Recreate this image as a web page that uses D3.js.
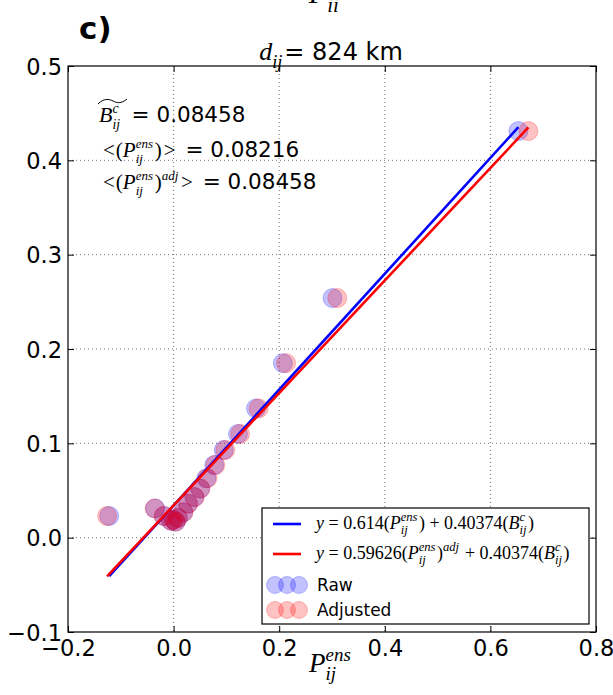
<!DOCTYPE html>
<html>
<head>
<meta charset="utf-8">
<script src="https://cdn.jsdelivr.net/npm/d3@7"></script>
<style>
  body { margin: 0; background: #fff; }
  svg { display: block; }
  svg text { white-space: pre; }
</style>
</head>
<body>
<script>
// raw ensemble points and their adjusted counterparts (same y values)
const rawX = [-0.122, -0.035, -0.018, -0.005, 0.000, 0.004, 0.008, 0.018, 0.027, 0.039,
              0.050, 0.062, 0.077, 0.095, 0.122, 0.156, 0.207, 0.301, 0.653];
const adjX = [-0.126, -0.036, -0.019, -0.005, 0.000, 0.004, 0.008, 0.019, 0.028, 0.040,
              0.051, 0.064, 0.079, 0.098, 0.126, 0.161, 0.213, 0.310, 0.672];
const pointY = [0.023, 0.031, 0.023, 0.018, 0.019, 0.017, 0.021, 0.027, 0.036, 0.043,
                0.052, 0.063, 0.077, 0.093, 0.110, 0.137, 0.185, 0.254, 0.431];

// fits: y = slope * P + 0.40374 * Bc
const Bc = 0.08458;
const fitSlopes = [0.614, 0.59626];
const fitWeight = 0.40374;
const fitColors = ["#0000ff", "#ff0000"];
const fitRanges = [[-0.122, 0.653], [-0.126, 0.672]];

const xTicks = [-0.2, 0.0, 0.2, 0.4, 0.6, 0.8];
const yTicks = [-0.1, 0.0, 0.1, 0.2, 0.3, 0.4, 0.5];

const W = 613, H = 695;
const plot = {left: 68, right: 596, top: 66, bottom: 632};

const svg = d3.select("body").append("svg")
    .attr("width", W)
    .attr("height", H);

svg.append("rect").attr("width", W).attr("height", H).attr("fill", "#fff");

const x = d3.scaleLinear().domain([-0.2, 0.8]).range([plot.left, plot.right]);
const y = d3.scaleLinear().domain([-0.1, 0.5]).range([plot.bottom, plot.top]);

const SANS = "DejaVu Sans, sans-serif";
const SERIF = "Liberation Serif, serif";

// lay out a run of math/sans pieces, measuring as we go
function mathLine(parent, x0, y0, items, size, anchor, ss) {
  ss = ss || 0.7;
  const g = parent.append("g");
  let cx = 0;
  const put = (txt, fam, sz, it, dy) => {
    const t = g.append("text")
        .attr("x", cx).attr("y", dy)
        .attr("font-family", fam)
        .attr("font-size", sz)
        .attr("font-style", it ? "italic" : "normal")
        .attr("fill", "#000")
        .text(txt);
    return t.node().getComputedTextLength();
  };
  items.forEach(d => {
    if (d.sub !== undefined || d.sup !== undefined) {
      let w = 0;
      const save = cx;
      if (d.sup) { w = Math.max(w, put(d.sup, SERIF, size * ss, true, -size * 0.42)); cx = save; }
      if (d.sub) { w = Math.max(w, put(d.sub, SERIF, size * ss, true, size * 0.3)); cx = save; }
      cx += w + size * 0.08;
    } else if (d.gap) {
      cx += d.gap;
    } else if (d.s) {
      cx += put(d.s, SANS, d.size || size, false, 0);
    } else if (d.r) {
      cx += put(d.r, SERIF, size, false, 0);
    } else {
      cx += put(d.m, SERIF, size, true, 0);
    }
  });
  const off = anchor === "middle" ? -cx / 2 : anchor === "end" ? -cx : 0;
  g.attr("transform", `translate(${x0 + off},${y0})`);
  return g;
}

// grid
svg.append("g").selectAll("line").data(xTicks.slice(1, -1)).enter().append("line")
    .attr("x1", d => x(d)).attr("x2", d => x(d))
    .attr("y1", plot.top).attr("y2", plot.bottom)
    .attr("stroke", "#000").attr("stroke-opacity", 0.55)
    .attr("stroke-width", 1).attr("stroke-dasharray", "1,3");
svg.append("g").selectAll("line").data(yTicks.slice(1, -1)).enter().append("line")
    .attr("y1", d => y(d)).attr("y2", d => y(d))
    .attr("x1", plot.left).attr("x2", plot.right)
    .attr("stroke", "#000").attr("stroke-opacity", 0.55)
    .attr("stroke-width", 1).attr("stroke-dasharray", "1,3");

// points: raw then adjusted
svg.append("g").selectAll("circle").data(rawX).enter().append("circle")
    .attr("cx", d => x(d)).attr("cy", (d, i) => y(pointY[i])).attr("r", 9.5)
    .attr("fill", "#0000ff").attr("fill-opacity", 0.24)
    .attr("stroke", "#0000ff").attr("stroke-opacity", 0.24);
svg.append("g").selectAll("circle").data(adjX).enter().append("circle")
    .attr("cx", d => x(d)).attr("cy", (d, i) => y(pointY[i])).attr("r", 9.5)
    .attr("fill", "#ff0000").attr("fill-opacity", 0.24)
    .attr("stroke", "#ff0000").attr("stroke-opacity", 0.24);

// fit lines
fitSlopes.forEach((s, k) => {
  const pts = fitRanges[k].map(p => [p, s * p + fitWeight * Bc]);
  svg.append("path")
      .attr("d", d3.line().x(d => x(d[0])).y(d => y(d[1]))(pts))
      .attr("stroke", fitColors[k]).attr("stroke-width", 2.6).attr("fill", "none");
});

// axes (matplotlib classic: inward ticks on all four sides)
const fmt = d3.format(".1f");
const axB = svg.append("g").attr("transform", `translate(0,${plot.bottom})`)
    .call(d3.axisBottom(x).tickValues(xTicks).tickFormat(fmt).tickSizeInner(-6).tickSizeOuter(0).tickPadding(8));
const axL = svg.append("g").attr("transform", `translate(${plot.left},0)`)
    .call(d3.axisLeft(y).tickValues(yTicks).tickFormat(fmt).tickSizeInner(-6).tickSizeOuter(0).tickPadding(6));
const axT = svg.append("g").attr("transform", `translate(0,${plot.top})`)
    .call(d3.axisTop(x).tickValues(xTicks).tickFormat("").tickSizeInner(-6).tickSizeOuter(0));
const axR = svg.append("g").attr("transform", `translate(${plot.right},0)`)
    .call(d3.axisRight(y).tickValues(yTicks).tickFormat("").tickSizeInner(-6).tickSizeOuter(0));
[axB, axL, axT, axR].forEach(a => {
  a.select(".domain").remove();
  a.selectAll("line").attr("stroke", "#000");
  a.selectAll("text").attr("font-family", SANS).attr("font-size", 22.5).attr("fill", "#000");
});
axL.selectAll("text").attr("dy", "0.36em");

svg.append("rect")
    .attr("x", plot.left).attr("y", plot.top)
    .attr("width", plot.right - plot.left).attr("height", plot.bottom - plot.top)
    .attr("fill", "none").attr("stroke", "#000").attr("stroke-width", 1.2);

// panel letter, title, cropped label from panel above
svg.append("text").attr("x", 79).attr("y", 39)
    .attr("font-family", SANS).attr("font-size", 31).attr("font-weight", "bold")
    .text("c)");

mathLine(svg, 331, 60, [{m: "d"}, {sub: "ij"}, {s: "= 824 km", size: 24}], 26, "middle");
mathLine(svg, 325, 3, [{m: "P"}, {sub: "ii"}], 30, "middle");

// x label
mathLine(svg, 331, 672, [{m: "P"}, {sup: "ens", sub: "ij"}], 27, "middle");

// annotations
const ann = mathLine(svg, 99, 122, [{m: "B"}, {sup: "c", sub: "ij"}, {gap: 3}, {s: " = 0.08458", size: 21.5}], 22, "start", 0.62);
ann.append("path")
    .attr("d", "M-1,-18 C5,-24 10,-23 14,-21 C18,-19 22,-18 28,-23")
    .attr("fill", "none").attr("stroke", "#000").attr("stroke-width", 1);
mathLine(svg, 103, 157, [{r: "<"}, {gap: 1}, {r: "("}, {m: "P"}, {sup: "ens", sub: "ij"}, {r: ")"}, {gap: 2}, {r: ">"}, {gap: 3}, {s: " = 0.08216", size: 21.5}], 21, "start", 0.62);
mathLine(svg, 103, 189, [{r: "<"}, {gap: 1}, {r: "("}, {m: "P"}, {sup: "ens", sub: "ij"}, {r: ")"}, {sup: "adj"}, {gap: 1}, {r: ">"}, {gap: 3}, {s: " = 0.08458", size: 21.5}], 21, "start", 0.62);

// legend
const lg = svg.append("g");
lg.append("rect").attr("x", 262).attr("y", 508).attr("width", 327).attr("height", 116)
    .attr("fill", "#fff").attr("stroke", "#000").attr("stroke-width", 1.2);
fitColors.forEach((c, k) => {
  const yy = 524 + k * 30;
  lg.append("line").attr("x1", 273).attr("x2", 301).attr("y1", yy).attr("y2", yy)
      .attr("stroke", c).attr("stroke-width", 2.6);
});
mathLine(lg, 316, 529, [{m: "y"}, {r: " = 0.614("}, {m: "P"}, {sup: "ens", sub: "ij"}, {r: ") + 0.40374("}, {m: "B"}, {sup: "c", sub: "ij"}, {r: ")"}], 18, "start");
mathLine(lg, 316, 559, [{m: "y"}, {r: " = 0.59626("}, {m: "P"}, {sup: "ens", sub: "ij"}, {r: ")"}, {sup: "adj"}, {r: " + 0.40374("}, {m: "B"}, {sup: "c", sub: "ij"}, {r: ")"}], 18, "start");
[["#0000ff", "Raw", 585], ["#ff0000", "Adjusted", 610]].forEach(([c, label, yy]) => {
  [275, 287, 299].forEach(cx => {
    lg.append("circle").attr("cx", cx).attr("cy", yy).attr("r", 8.5)
        .attr("fill", c).attr("fill-opacity", 0.24)
        .attr("stroke", c).attr("stroke-opacity", 0.24);
  });
  lg.append("text").attr("x", 317).attr("y", yy + 6)
      .attr("font-family", SANS).attr("font-size", 17).text(label);
});
</script>
</body>
</html>
